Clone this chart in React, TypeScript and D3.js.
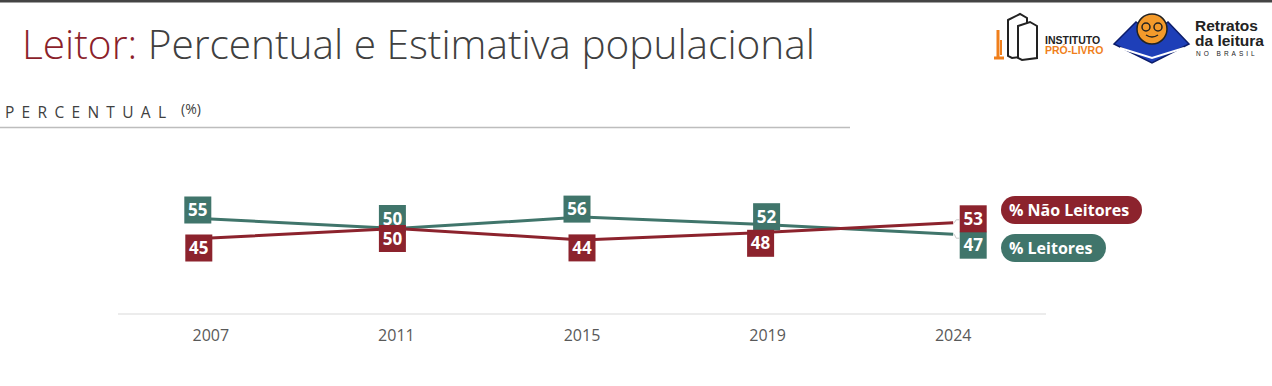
import React from 'react';
import * as d3 from 'd3';

// chart data
const YEARS = ['2007', '2011', '2015', '2019', '2024'];
const LEITORES = [55, 50, 56, 52, 47];
const NAO_LEITORES = [45, 50, 44, 48, 53];
const SERIES_NAMES = ['% Não Leitores', '% Leitores'];

const TEAL = '#40756b';
const RED = '#8c232d';
const FONT = "'Open Sans', 'Noto Sans', sans-serif";

// label nudges relative to each point (layout only)
const TEAL_NUDGE: [number, number][] = [[-13, -9], [-4, -10], [-5, -8], [-1, -8], [20, 11]];
const RED_NUDGE: [number, number][] = [[-12, 10], [-4, 10], [0, 8], [-7, 11], [20, -4]];

const W = 1272;
const H = 386;
const BOX = 27;

const App: React.FC = () => {
  const x = d3.scalePoint<string>().domain(YEARS).range([118, 1046]).padding(0.5);
  const y = d3.scaleLinear().domain([0, 100]).range([323.5, 133.5]);

  const line = d3.line<number>()
    .x((_, i) => x(YEARS[i]) as number)
    .y(d => y(d));

  const labels = (vals: number[], nudge: [number, number][], color: string) =>
    vals.map((v, i) => {
      const cx = (x(YEARS[i]) as number) + nudge[i][0];
      const cy = y(v) + nudge[i][1];
      return (
        <g key={i}>
          <rect x={cx - BOX / 2} y={cy - BOX / 2} width={BOX} height={BOX} fill={color} />
          <text x={cx} y={cy + 6} textAnchor="middle" fill="#fff" fontWeight={700} fontSize={17} fontFamily={FONT}>
            {v}
          </text>
        </g>
      );
    });

  const last = YEARS.length - 1;
  const lx = x(YEARS[last]) as number;

  return (
    <div style={{ position: 'absolute', left: 0, top: 0 }}>
      <svg width={W} height={H} style={{ display: 'block', background: '#fff' }}>
        {/* top bar */}
        <rect x={0} y={0} width={W} height={2.5} fill="#444" />

        {/* title */}
        <text x={22} y={59} fontSize={40.6} fontWeight={300} fontFamily={FONT} fill="#404040">
          <tspan fill="#8c1f2b">Leitor:</tspan> Percentual e Estimativa populacional
        </text>

        {/* subtitle */}
        <text x={5} y={118} fontSize={15.5} fontFamily={FONT} fill="#404040" letterSpacing={7.3}>PERCENTUAL</text>
        <text x={181} y={114} fontSize={14} fontFamily={FONT} fill="#404040">(%)</text>
        <line x1={0} x2={850} y1={127.5} y2={127.5} stroke="#bdbdbd" strokeWidth={1.5} />

        {/* logos */}
        <g>
          <path d="M998 30 L998 58 M994 58 L1004 58" stroke="#f07f1b" strokeWidth={3} fill="none" />
          <path d="M1001 40 L1001 55" stroke="#f07f1b" strokeWidth={2} fill="none" />
          <g fill="#fff" stroke="#222" strokeWidth={2}>
            <path d="M1008 20 L1020 14 L1027 18 L1027 56 L1012 58 L1008 56 Z" />
            <path d="M1018 26 L1030 22 L1037 26 L1037 58 L1022 60 L1018 58 Z" />
          </g>
          <text x={1045} y={44} fontSize={10.5} fontWeight={700} fontFamily="'Liberation Sans', sans-serif" fill="#222">INSTITUTO</text>
          <text x={1045} y={54} fontSize={10.5} fontWeight={700} fontFamily="'Liberation Sans', sans-serif" fill="#f07f1b">PRÓ-LIVRO</text>
        </g>
        <g>
          <path d="M1114 44 L1136 22 L1152 34 L1168 22 L1189 44 L1152 63 Z" fill="#1e3fb8" stroke="#0c1d6b" strokeWidth={1.5} />
          <path d="M1120 48 L1152 58 L1184 48" stroke="#fff" strokeWidth={2} fill="none" />
          <circle cx={1152} cy={29} r={15} fill="#f39a2b" stroke="#222" strokeWidth={1.5} />
          <circle cx={1146} cy={27} r={4} fill="none" stroke="#222" strokeWidth={1.5} />
          <circle cx={1158} cy={27} r={4} fill="none" stroke="#222" strokeWidth={1.5} />
          <path d="M1146 35 Q1152 39 1158 35" stroke="#222" strokeWidth={1.5} fill="none" />
          <text x={1195} y={31} fontSize={15.5} fontWeight={700} fontFamily="'Liberation Sans', sans-serif" fill="#222">Retratos</text>
          <text x={1195} y={46} fontSize={15.5} fontWeight={700} fontFamily="'Liberation Sans', sans-serif" fill="#222">da leitura</text>
          <text x={1196} y={56} fontSize={6.5} fontFamily="'Liberation Sans', sans-serif" fill="#222" letterSpacing={3}>NO BRASIL</text>
        </g>

        {/* category axis */}
        <line x1={118} x2={1046} y1={314} y2={314} stroke="#d9d9d9" strokeWidth={1.2} />
        {YEARS.map(yr => (
          <text key={yr} x={x(yr)} y={341} textAnchor="middle" fontSize={16} fontFamily={FONT} fill="#595959">{yr}</text>
        ))}

        {/* lines */}
        <path d={line(LEITORES) || ''} fill="none" stroke={TEAL} strokeWidth={3} />
        <path d={line(NAO_LEITORES) || ''} fill="none" stroke={RED} strokeWidth={3} />

        {/* leader lines for the last labels */}
        <path d={`M${lx + 1} ${y(NAO_LEITORES[last])} L${lx + 3} ${y(NAO_LEITORES[last]) - 3} L${lx + 6} ${y(NAO_LEITORES[last]) - 3}`} stroke="#c8c8c8" strokeWidth={1} fill="none" />
        <path d={`M${lx + 1} ${y(LEITORES[last])} L${lx + 3} ${y(LEITORES[last]) + 4} L${lx + 6} ${y(LEITORES[last]) + 4}`} stroke="#c8c8c8" strokeWidth={1} fill="none" />

        {/* data labels */}
        {labels(LEITORES, TEAL_NUDGE, TEAL)}
        {labels(NAO_LEITORES, RED_NUDGE, RED)}

        {/* legend pills */}
        {SERIES_NAMES.map((name, i) => {
          const pw = i === 0 ? 141 : 105;
          const py = i === 0 ? 196 : 234;
          return (
            <g key={name}>
              <rect x={1001} y={py} width={pw} height={28} rx={14} fill={i === 0 ? RED : TEAL} />
              <text x={1009} y={py + 20} fontSize={16} fontWeight={700} fontFamily={FONT} fill="#fff">{name}</text>
            </g>
          );
        })}
      </svg>
    </div>
  );
};

export default App;
